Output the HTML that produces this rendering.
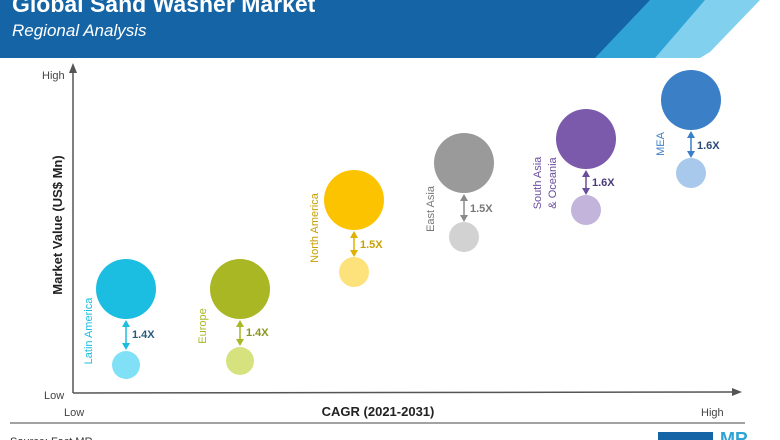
<!DOCTYPE html>
<html><head><meta charset="utf-8"><style>
html,body{margin:0;padding:0;background:#fff;}
svg{display:block;font-family:"Liberation Sans",sans-serif;}
</style></head><body>
<svg width="780" height="440" viewBox="0 0 780 440" xmlns="http://www.w3.org/2000/svg">
<polygon points="0,0 760,0 710,52 700,58 0,58" fill="#80d0ee"/>
<polygon points="0,0 705,0 655,58 0,58" fill="#2fa3d6"/>
<polygon points="0,0 650,0 595,58 0,58" fill="#1565a6"/>
<text x="12" y="12" fill="#fff" font-size="23" font-weight="bold">Global Sand Washer Market</text>
<text x="12" y="36" fill="#fff" font-size="17" font-style="italic">Regional Analysis</text>
<!-- axes -->
<line x1="73" y1="70" x2="73" y2="393" stroke="#555" stroke-width="1.5"/>
<polygon points="73,63 69,73 77,73" fill="#555"/>
<line x1="73" y1="393" x2="735" y2="392" stroke="#555" stroke-width="1.5"/>
<polygon points="742,392 732,388 732,396" fill="#555"/>
<text x="42" y="79" font-size="11" fill="#444">High</text>
<text x="44" y="399" font-size="11" fill="#444">Low</text>
<text x="64" y="416" font-size="11" fill="#444">Low</text>
<text x="701" y="416" font-size="11" fill="#444">High</text>
<text x="378" y="416" font-size="13" font-weight="bold" fill="#222" text-anchor="middle">CAGR (2021-2031)</text>
<text transform="translate(62,225) rotate(-90)" font-size="13" font-weight="bold" fill="#222" text-anchor="middle">Market Value (US$ Mn)</text>
<line x1="10" y1="423" x2="745" y2="423" stroke="#444" stroke-width="1"/>
<rect x="658" y="432" width="55" height="10" fill="#1565a6"/>
<text x="720" y="445" font-size="18" font-weight="bold" fill="#2fa3d6">MR</text>
<g font-size="11">
<!-- Latin America -->
<circle cx="126" cy="289" r="30" fill="#1bbde0"/><circle cx="126" cy="365" r="14" fill="#80e0f6"/>
<line x1="126" y1="322" x2="126" y2="348" stroke="#1bbde0" stroke-width="1.5"/>
<polygon points="126,320 122,327 130,327" fill="#1bbde0"/><polygon points="126,350 122,343 130,343" fill="#1bbde0"/>
<text x="132" y="338" font-weight="bold" fill="#2a5a7a">1.4X</text>
<text transform="translate(92,331) rotate(-90)" text-anchor="middle" fill="#1bbde0">Latin America</text>
<!-- Europe -->
<circle cx="240" cy="289" r="30" fill="#a9b724"/><circle cx="240" cy="361" r="14" fill="#d6e27e"/>
<line x1="240" y1="322" x2="240" y2="344" stroke="#a9b724" stroke-width="1.5"/>
<polygon points="240,320 236,327 244,327" fill="#a9b724"/><polygon points="240,346 236,339 244,339" fill="#a9b724"/>
<text x="246" y="336" font-weight="bold" fill="#8a9520">1.4X</text>
<text transform="translate(206,326) rotate(-90)" text-anchor="middle" fill="#a9b724">Europe</text>
<!-- North America -->
<circle cx="354" cy="200" r="30" fill="#fcc400"/><circle cx="354" cy="272" r="15" fill="#fde27c"/>
<line x1="354" y1="233" x2="354" y2="255" stroke="#e0b000" stroke-width="1.5"/>
<polygon points="354,231 350,238 358,238" fill="#e0b000"/><polygon points="354,257 350,250 358,250" fill="#e0b000"/>
<text x="360" y="248" font-weight="bold" fill="#c9a000">1.5X</text>
<text transform="translate(318,228) rotate(-90)" text-anchor="middle" fill="#c9a000">North America</text>
<!-- East Asia -->
<circle cx="464" cy="163" r="30" fill="#9a9a9a"/><circle cx="464" cy="237" r="15" fill="#d2d2d2"/>
<line x1="464" y1="196" x2="464" y2="220" stroke="#8a8a8a" stroke-width="1.5"/>
<polygon points="464,194 460,201 468,201" fill="#8a8a8a"/><polygon points="464,222 460,215 468,215" fill="#8a8a8a"/>
<text x="470" y="212" font-weight="bold" fill="#777">1.5X</text>
<text transform="translate(434,209) rotate(-90)" text-anchor="middle" fill="#777">East Asia</text>
<!-- South Asia -->
<circle cx="586" cy="139" r="30" fill="#7b5aab"/><circle cx="586" cy="210" r="15" fill="#c3b4dc"/>
<line x1="586" y1="172" x2="586" y2="193" stroke="#6a4e9e" stroke-width="1.5"/>
<polygon points="586,170 582,177 590,177" fill="#6a4e9e"/><polygon points="586,195 582,188 590,188" fill="#6a4e9e"/>
<text x="592" y="186" font-weight="bold" fill="#4a3a7a">1.6X</text>
<text transform="translate(541,183) rotate(-90)" text-anchor="middle" fill="#6a4e9e">South Asia</text>
<text transform="translate(556,183) rotate(-90)" text-anchor="middle" fill="#6a4e9e">&amp; Oceania</text>
<!-- MEA -->
<circle cx="691" cy="100" r="30" fill="#3b7fc6"/><circle cx="691" cy="173" r="15" fill="#a9c9ec"/>
<line x1="691" y1="133" x2="691" y2="156" stroke="#3b7fc6" stroke-width="1.5"/>
<polygon points="691,131 687,138 695,138" fill="#3b7fc6"/><polygon points="691,158 687,151 695,151" fill="#3b7fc6"/>
<text x="697" y="149" font-weight="bold" fill="#2a4a7a">1.6X</text>
<text transform="translate(664,144) rotate(-90)" text-anchor="middle" fill="#3b7fc6">MEA</text>
</g>
<text x="10" y="445" font-size="11" fill="#333">Source: Fact.MR</text>
</svg>
</body></html>
